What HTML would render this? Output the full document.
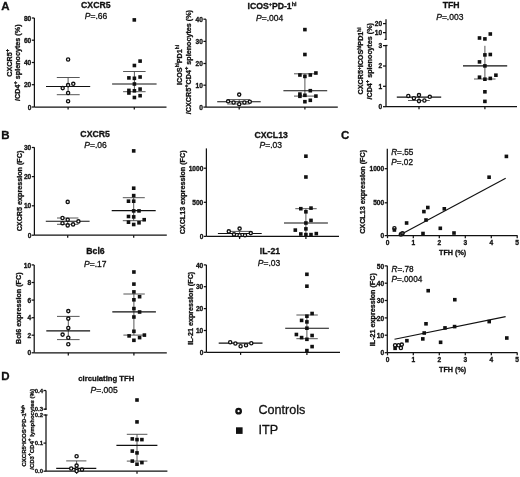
<!DOCTYPE html><html><head><meta charset="utf-8"><style>html,body{margin:0;padding:0;background:#fff;overflow:hidden;}svg{display:block;font-family:"Liberation Sans",sans-serif;will-change:transform;}text{fill:#111;stroke:#111;stroke-width:0.3px;}</style></head><body>
<svg width="520" height="477" viewBox="0 0 520 477">
<rect width="520" height="477" fill="#fff"/>
<text x="1.2" y="9.6" font-size="11.5" text-anchor="start" font-weight="bold" >A</text>
<text x="1.3" y="139.2" font-size="11.5" text-anchor="start" font-weight="bold" >B</text>
<text x="341" y="139.2" font-size="11.5" text-anchor="start" font-weight="bold" >C</text>
<text x="1.2" y="380.4" font-size="11.5" text-anchor="start" font-weight="bold" >D</text>
<line x1="34.4" y1="18" x2="34.4" y2="107" stroke="#111" stroke-width="1.25"/>
<line x1="31.8" y1="18" x2="34.4" y2="18" stroke="#111" stroke-width="1.25"/>
<text x="31.3" y="20.68" font-size="6.6" text-anchor="end" font-weight="bold" >80</text>
<line x1="31.8" y1="40.2" x2="34.4" y2="40.2" stroke="#111" stroke-width="1.25"/>
<text x="31.3" y="42.88" font-size="6.6" text-anchor="end" font-weight="bold" >60</text>
<line x1="31.8" y1="62.5" x2="34.4" y2="62.5" stroke="#111" stroke-width="1.25"/>
<text x="31.3" y="65.18" font-size="6.6" text-anchor="end" font-weight="bold" >40</text>
<line x1="31.8" y1="84.7" x2="34.4" y2="84.7" stroke="#111" stroke-width="1.25"/>
<text x="31.3" y="87.38" font-size="6.6" text-anchor="end" font-weight="bold" >20</text>
<line x1="31.8" y1="107" x2="34.4" y2="107" stroke="#111" stroke-width="1.25"/>
<text x="31.3" y="109.68" font-size="6.6" text-anchor="end" font-weight="bold" >0</text>
<line x1="34.4" y1="107" x2="166.5" y2="107" stroke="#111" stroke-width="1.25"/>
<line x1="68.1" y1="107" x2="68.1" y2="109.6" stroke="#111" stroke-width="1.25"/>
<line x1="134.3" y1="107" x2="134.3" y2="109.6" stroke="#111" stroke-width="1.25"/>
<text x="95.8" y="8.2" font-size="8.7" text-anchor="middle" font-weight="bold" >CXCR5</text>
<text x="96" y="19" font-size="8.5" text-anchor="middle" stroke="#111" stroke-width="0.25"><tspan font-style="italic">P</tspan>=.66</text>
<text transform="translate(11.6,62.8) rotate(-90)" font-size="7.2" font-weight="bold" text-anchor="middle">CXCR5<tspan dy="-2.88" font-size="5.76">+</tspan><tspan dy="2.88"></tspan></text>
<text transform="translate(19.5,62.7) rotate(-90)" font-size="7.2" font-weight="bold" text-anchor="middle">/CD4<tspan dy="-2.88" font-size="5.76">+</tspan><tspan dy="2.88"> splenocytes (%)</tspan></text>
<line x1="68.1" y1="77.5" x2="68.1" y2="94.7" stroke="#444" stroke-width="0.9"/>
<line x1="56.8" y1="77.5" x2="79.7" y2="77.5" stroke="#444" stroke-width="0.9"/>
<line x1="56.8" y1="94.7" x2="79.7" y2="94.7" stroke="#444" stroke-width="0.9"/>
<line x1="46" y1="86.5" x2="90.2" y2="86.5" stroke="#111" stroke-width="1.15"/>
<circle cx="68.1" cy="59.5" r="1.6" fill="#fff" stroke="#111" stroke-width="1.35"/>
<circle cx="73.3" cy="83.8" r="1.6" fill="#fff" stroke="#111" stroke-width="1.35"/>
<circle cx="68.1" cy="85.1" r="1.6" fill="#fff" stroke="#111" stroke-width="1.35"/>
<circle cx="62.7" cy="88.1" r="1.6" fill="#fff" stroke="#111" stroke-width="1.35"/>
<circle cx="68.1" cy="93" r="1.6" fill="#fff" stroke="#111" stroke-width="1.35"/>
<circle cx="68.1" cy="101.2" r="1.6" fill="#fff" stroke="#111" stroke-width="1.35"/>
<line x1="134.4" y1="71.5" x2="134.4" y2="91.7" stroke="#444" stroke-width="0.9"/>
<line x1="123.1" y1="71.5" x2="145.6" y2="71.5" stroke="#444" stroke-width="0.9"/>
<line x1="123.1" y1="91.7" x2="145.6" y2="91.7" stroke="#444" stroke-width="0.9"/>
<line x1="112.1" y1="84" x2="156.6" y2="84" stroke="#111" stroke-width="1.15"/>
<rect x="132.5" y="18.1" width="3.6" height="3.6" fill="#111"/>
<rect x="138.3" y="59.3" width="3.6" height="3.6" fill="#111"/>
<rect x="132.6" y="63.7" width="3.6" height="3.6" fill="#111"/>
<rect x="127.1" y="76.1" width="3.6" height="3.6" fill="#111"/>
<rect x="132.6" y="76.5" width="3.6" height="3.6" fill="#111"/>
<rect x="138.3" y="75.2" width="3.6" height="3.6" fill="#111"/>
<rect x="132.6" y="82.2" width="3.6" height="3.6" fill="#111"/>
<rect x="127.1" y="88.6" width="3.6" height="3.6" fill="#111"/>
<rect x="127.1" y="91.2" width="3.6" height="3.6" fill="#111"/>
<rect x="132.6" y="89" width="3.6" height="3.6" fill="#111"/>
<rect x="138.3" y="87.3" width="3.6" height="3.6" fill="#111"/>
<rect x="132.6" y="95.7" width="3.6" height="3.6" fill="#111"/>
<rect x="138.3" y="93.9" width="3.6" height="3.6" fill="#111"/>
<line x1="206" y1="19.2" x2="206" y2="107" stroke="#111" stroke-width="1.25"/>
<line x1="203.4" y1="19.2" x2="206" y2="19.2" stroke="#111" stroke-width="1.25"/>
<text x="202.9" y="21.88" font-size="6.6" text-anchor="end" font-weight="bold" >40</text>
<line x1="203.4" y1="41.4" x2="206" y2="41.4" stroke="#111" stroke-width="1.25"/>
<text x="202.9" y="44.08" font-size="6.6" text-anchor="end" font-weight="bold" >30</text>
<line x1="203.4" y1="63.5" x2="206" y2="63.5" stroke="#111" stroke-width="1.25"/>
<text x="202.9" y="66.18" font-size="6.6" text-anchor="end" font-weight="bold" >20</text>
<line x1="203.4" y1="85.2" x2="206" y2="85.2" stroke="#111" stroke-width="1.25"/>
<text x="202.9" y="87.88" font-size="6.6" text-anchor="end" font-weight="bold" >10</text>
<line x1="203.4" y1="107.1" x2="206" y2="107.1" stroke="#111" stroke-width="1.25"/>
<text x="202.9" y="109.78" font-size="6.6" text-anchor="end" font-weight="bold" >0</text>
<line x1="206" y1="107" x2="337.8" y2="107" stroke="#111" stroke-width="1.25"/>
<line x1="239.2" y1="107" x2="239.2" y2="109.6" stroke="#111" stroke-width="1.25"/>
<line x1="304.9" y1="107" x2="304.9" y2="109.6" stroke="#111" stroke-width="1.25"/>
<text x="272" y="8.9" font-size="8.7" text-anchor="middle" font-weight="bold">ICOS<tspan dy="-3.2" font-size="5.3">+</tspan><tspan dy="3.2">PD-1</tspan><tspan dy="-3.2" font-size="5.3">hi</tspan></text>
<text x="269.6" y="21" font-size="8.5" text-anchor="middle" stroke="#111" stroke-width="0.25"><tspan font-style="italic">P</tspan>=.004</text>
<text transform="translate(181.6,65) rotate(-90)" font-size="7.2" font-weight="bold" text-anchor="middle">ICOS<tspan dy="-2.88" font-size="4.68">hi</tspan><tspan dy="2.88">PD1</tspan><tspan dy="-2.88" font-size="4.68">hi</tspan><tspan dy="2.88"></tspan></text>
<text transform="translate(190.8,62.1) rotate(-90)" font-size="7.2" font-weight="bold" text-anchor="middle">/CXCR5<tspan dy="-2.88" font-size="5.76">+</tspan><tspan dy="2.88">CD4</tspan><tspan dy="-2.88" font-size="5.76">+</tspan><tspan dy="2.88"> splenocytes (%)</tspan></text>
<line x1="239.2" y1="99.6" x2="239.2" y2="104" stroke="#444" stroke-width="0.9"/>
<line x1="227.3" y1="99.6" x2="249.8" y2="99.6" stroke="#444" stroke-width="0.9"/>
<line x1="227.3" y1="104" x2="249.8" y2="104" stroke="#444" stroke-width="0.9"/>
<line x1="217.2" y1="101.7" x2="260.7" y2="101.7" stroke="#111" stroke-width="1.15"/>
<circle cx="239.2" cy="94.6" r="1.6" fill="#fff" stroke="#111" stroke-width="1.35"/>
<circle cx="228.1" cy="101.3" r="1.6" fill="#fff" stroke="#111" stroke-width="1.35"/>
<circle cx="233.6" cy="102.5" r="1.6" fill="#fff" stroke="#111" stroke-width="1.35"/>
<circle cx="239.2" cy="104.2" r="1.6" fill="#fff" stroke="#111" stroke-width="1.35"/>
<circle cx="244.4" cy="102.5" r="1.6" fill="#fff" stroke="#111" stroke-width="1.35"/>
<circle cx="249.8" cy="101.7" r="1.6" fill="#fff" stroke="#111" stroke-width="1.35"/>
<line x1="304.9" y1="73.8" x2="304.9" y2="96.1" stroke="#444" stroke-width="0.9"/>
<line x1="294" y1="73.8" x2="315.9" y2="73.8" stroke="#444" stroke-width="0.9"/>
<line x1="294" y1="96.1" x2="315.9" y2="96.1" stroke="#444" stroke-width="0.9"/>
<line x1="283.4" y1="90.7" x2="327.2" y2="90.7" stroke="#111" stroke-width="1.15"/>
<rect x="303.1" y="27.8" width="3.6" height="3.6" fill="#111"/>
<rect x="303.1" y="52.7" width="3.6" height="3.6" fill="#111"/>
<rect x="298.1" y="73.2" width="3.6" height="3.6" fill="#111"/>
<rect x="303.1" y="74.6" width="3.6" height="3.6" fill="#111"/>
<rect x="308.5" y="73.2" width="3.6" height="3.6" fill="#111"/>
<rect x="314.1" y="71.2" width="3.6" height="3.6" fill="#111"/>
<rect x="308.5" y="88.9" width="3.6" height="3.6" fill="#111"/>
<rect x="298.1" y="92.3" width="3.6" height="3.6" fill="#111"/>
<rect x="298.1" y="94.5" width="3.6" height="3.6" fill="#111"/>
<rect x="303.1" y="93.5" width="3.6" height="3.6" fill="#111"/>
<rect x="314.1" y="94.3" width="3.6" height="3.6" fill="#111"/>
<rect x="303.1" y="99.9" width="3.6" height="3.6" fill="#111"/>
<rect x="308.5" y="98.5" width="3.6" height="3.6" fill="#111"/>
<line x1="386" y1="19.2" x2="386" y2="39.4" stroke="#111" stroke-width="1.25"/>
<line x1="384.5" y1="39.4" x2="386.5" y2="39.4" stroke="#111" stroke-width="1.25"/>
<line x1="383" y1="23.6" x2="386" y2="23.6" stroke="#111" stroke-width="1.25"/>
<text x="382.2" y="25.98" font-size="6.6" text-anchor="end" font-weight="bold" >20</text>
<line x1="383" y1="32.6" x2="386" y2="32.6" stroke="#111" stroke-width="1.25"/>
<text x="382.2" y="34.98" font-size="6.6" text-anchor="end" font-weight="bold" >10</text>
<line x1="386" y1="45.5" x2="386" y2="106.7" stroke="#111" stroke-width="1.25"/>
<line x1="385.5" y1="45.5" x2="387.5" y2="45.5" stroke="#111" stroke-width="1.25"/>
<line x1="383" y1="45.6" x2="386" y2="45.6" stroke="#111" stroke-width="1.25"/>
<text x="382.2" y="47.98" font-size="6.6" text-anchor="end" font-weight="bold" >3</text>
<line x1="383" y1="66" x2="386" y2="66" stroke="#111" stroke-width="1.25"/>
<text x="382.2" y="68.38" font-size="6.6" text-anchor="end" font-weight="bold" >2</text>
<line x1="383" y1="86.3" x2="386" y2="86.3" stroke="#111" stroke-width="1.25"/>
<text x="382.2" y="88.68" font-size="6.6" text-anchor="end" font-weight="bold" >1</text>
<line x1="383" y1="106.7" x2="386" y2="106.7" stroke="#111" stroke-width="1.25"/>
<text x="382.2" y="109.08" font-size="6.6" text-anchor="end" font-weight="bold" >0</text>
<line x1="386" y1="106.7" x2="517" y2="106.7" stroke="#111" stroke-width="1.25"/>
<line x1="419" y1="106.7" x2="419" y2="109.3" stroke="#111" stroke-width="1.25"/>
<line x1="484.9" y1="106.7" x2="484.9" y2="109.3" stroke="#111" stroke-width="1.25"/>
<text x="451.1" y="8.3" font-size="8.7" text-anchor="middle" font-weight="bold" >TFH</text>
<text x="449.8" y="19.7" font-size="8.5" text-anchor="middle" stroke="#111" stroke-width="0.25"><tspan font-style="italic">P</tspan>=.003</text>
<text transform="translate(363.4,61) rotate(-90)" font-size="7.2" font-weight="bold" text-anchor="middle">CXCR5<tspan dy="-2.88" font-size="4.68">+</tspan><tspan dy="2.88">ICOS</tspan><tspan dy="-2.88" font-size="4.68">hi</tspan><tspan dy="2.88">PD1</tspan><tspan dy="-2.88" font-size="4.68">hi</tspan><tspan dy="2.88"></tspan></text>
<text transform="translate(371.6,61.3) rotate(-90)" font-size="7.2" font-weight="bold" text-anchor="middle">/CD4<tspan dy="-2.88" font-size="5.76">+</tspan><tspan dy="2.88"> splenocytes (%)</tspan></text>
<line x1="419" y1="96" x2="419" y2="100.5" stroke="#444" stroke-width="0.9"/>
<line x1="408" y1="100.5" x2="429.8" y2="100.5" stroke="#444" stroke-width="0.9"/>
<line x1="396.8" y1="97.1" x2="441.2" y2="97.1" stroke="#111" stroke-width="1.15"/>
<circle cx="408.3" cy="95.9" r="1.6" fill="#fff" stroke="#111" stroke-width="1.35"/>
<circle cx="413.9" cy="98.2" r="1.6" fill="#fff" stroke="#111" stroke-width="1.35"/>
<circle cx="419" cy="95.1" r="1.6" fill="#fff" stroke="#111" stroke-width="1.35"/>
<circle cx="419" cy="101.1" r="1.6" fill="#fff" stroke="#111" stroke-width="1.35"/>
<circle cx="424.4" cy="100.5" r="1.6" fill="#fff" stroke="#111" stroke-width="1.35"/>
<circle cx="429.8" cy="96.8" r="1.6" fill="#fff" stroke="#111" stroke-width="1.35"/>
<line x1="484.9" y1="45.8" x2="484.9" y2="79" stroke="#444" stroke-width="0.9"/>
<line x1="474" y1="79" x2="495.5" y2="79" stroke="#444" stroke-width="0.9"/>
<line x1="463" y1="65.9" x2="507.2" y2="65.9" stroke="#111" stroke-width="1.15"/>
<rect x="488.5" y="32.2" width="3.6" height="3.6" fill="#111"/>
<rect x="477.7" y="36.2" width="3.6" height="3.6" fill="#111"/>
<rect x="483.1" y="37.1" width="3.6" height="3.6" fill="#111"/>
<rect x="483.1" y="53.1" width="3.6" height="3.6" fill="#111"/>
<rect x="488.5" y="52.7" width="3.6" height="3.6" fill="#111"/>
<rect x="477.7" y="60.1" width="3.6" height="3.6" fill="#111"/>
<rect x="483.1" y="64.1" width="3.6" height="3.6" fill="#111"/>
<rect x="477.7" y="75.4" width="3.6" height="3.6" fill="#111"/>
<rect x="483.1" y="77.4" width="3.6" height="3.6" fill="#111"/>
<rect x="488.5" y="76.6" width="3.6" height="3.6" fill="#111"/>
<rect x="494.1" y="73.4" width="3.6" height="3.6" fill="#111"/>
<rect x="483.1" y="90" width="3.6" height="3.6" fill="#111"/>
<rect x="483.1" y="99.6" width="3.6" height="3.6" fill="#111"/>
<line x1="34.4" y1="147.3" x2="34.4" y2="235.2" stroke="#111" stroke-width="1.25"/>
<line x1="31.8" y1="147.5" x2="34.4" y2="147.5" stroke="#111" stroke-width="1.25"/>
<text x="31.3" y="150.18" font-size="6.6" text-anchor="end" font-weight="bold" >30</text>
<line x1="31.8" y1="176.6" x2="34.4" y2="176.6" stroke="#111" stroke-width="1.25"/>
<text x="31.3" y="179.28" font-size="6.6" text-anchor="end" font-weight="bold" >20</text>
<line x1="31.8" y1="205.8" x2="34.4" y2="205.8" stroke="#111" stroke-width="1.25"/>
<text x="31.3" y="208.48" font-size="6.6" text-anchor="end" font-weight="bold" >10</text>
<line x1="31.8" y1="235.2" x2="34.4" y2="235.2" stroke="#111" stroke-width="1.25"/>
<text x="31.3" y="237.88" font-size="6.6" text-anchor="end" font-weight="bold" >0</text>
<line x1="34.4" y1="235.2" x2="166.8" y2="235.2" stroke="#111" stroke-width="1.25"/>
<line x1="67.7" y1="235.2" x2="67.7" y2="237.8" stroke="#111" stroke-width="1.25"/>
<line x1="133.7" y1="235.2" x2="133.7" y2="237.8" stroke="#111" stroke-width="1.25"/>
<text x="95.1" y="136.5" font-size="8.7" text-anchor="middle" font-weight="bold" >CXCR5</text>
<text x="95.5" y="147.5" font-size="8.5" text-anchor="middle" stroke="#111" stroke-width="0.25"><tspan font-style="italic">P</tspan>=.06</text>
<text transform="translate(21.5,191) rotate(-90)" font-size="7.2" font-weight="bold" text-anchor="middle">CXCR5 expression (FC)</text>
<line x1="67.7" y1="218" x2="67.7" y2="224.3" stroke="#444" stroke-width="0.9"/>
<line x1="57" y1="218" x2="78.4" y2="218" stroke="#444" stroke-width="0.9"/>
<line x1="57" y1="224.3" x2="78.4" y2="224.3" stroke="#444" stroke-width="0.9"/>
<line x1="45.8" y1="221.2" x2="89.6" y2="221.2" stroke="#111" stroke-width="1.15"/>
<circle cx="67.7" cy="201.9" r="1.6" fill="#fff" stroke="#111" stroke-width="1.35"/>
<circle cx="62.5" cy="218" r="1.6" fill="#fff" stroke="#111" stroke-width="1.35"/>
<circle cx="67.7" cy="219.7" r="1.6" fill="#fff" stroke="#111" stroke-width="1.35"/>
<circle cx="78.4" cy="221.4" r="1.6" fill="#fff" stroke="#111" stroke-width="1.35"/>
<circle cx="62.5" cy="223.2" r="1.6" fill="#fff" stroke="#111" stroke-width="1.35"/>
<circle cx="73.1" cy="224.4" r="1.6" fill="#fff" stroke="#111" stroke-width="1.35"/>
<circle cx="67.7" cy="225.4" r="1.6" fill="#fff" stroke="#111" stroke-width="1.35"/>
<line x1="133.7" y1="197.7" x2="133.7" y2="220.7" stroke="#444" stroke-width="0.9"/>
<line x1="122.8" y1="197.7" x2="144.8" y2="197.7" stroke="#444" stroke-width="0.9"/>
<line x1="122.8" y1="220.7" x2="144.8" y2="220.7" stroke="#444" stroke-width="0.9"/>
<line x1="111.7" y1="210.6" x2="155.7" y2="210.6" stroke="#111" stroke-width="1.15"/>
<rect x="131.9" y="149.1" width="3.6" height="3.6" fill="#111"/>
<rect x="131.9" y="186.4" width="3.6" height="3.6" fill="#111"/>
<rect x="131.9" y="193.8" width="3.6" height="3.6" fill="#111"/>
<rect x="126.7" y="199.4" width="3.6" height="3.6" fill="#111"/>
<rect x="131.9" y="199.4" width="3.6" height="3.6" fill="#111"/>
<rect x="131.9" y="209.1" width="3.6" height="3.6" fill="#111"/>
<rect x="137.2" y="209.1" width="3.6" height="3.6" fill="#111"/>
<rect x="126.7" y="214.7" width="3.6" height="3.6" fill="#111"/>
<rect x="131.9" y="215.1" width="3.6" height="3.6" fill="#111"/>
<rect x="142.4" y="217.9" width="3.6" height="3.6" fill="#111"/>
<rect x="126.7" y="220.4" width="3.6" height="3.6" fill="#111"/>
<rect x="137.2" y="221" width="3.6" height="3.6" fill="#111"/>
<rect x="131.9" y="222.7" width="3.6" height="3.6" fill="#111"/>
<line x1="206.4" y1="148.4" x2="206.4" y2="236.4" stroke="#111" stroke-width="1.25"/>
<line x1="203.8" y1="168.2" x2="206.4" y2="168.2" stroke="#111" stroke-width="1.25"/>
<text x="203.3" y="170.88" font-size="6.6" text-anchor="end" font-weight="bold" >1000</text>
<line x1="203.8" y1="202.3" x2="206.4" y2="202.3" stroke="#111" stroke-width="1.25"/>
<text x="203.3" y="204.98" font-size="6.6" text-anchor="end" font-weight="bold" >500</text>
<line x1="203.8" y1="236.4" x2="206.4" y2="236.4" stroke="#111" stroke-width="1.25"/>
<text x="203.3" y="239.08" font-size="6.6" text-anchor="end" font-weight="bold" >0</text>
<line x1="206.4" y1="236.4" x2="339" y2="236.4" stroke="#111" stroke-width="1.25"/>
<line x1="239.6" y1="236.4" x2="239.6" y2="239" stroke="#111" stroke-width="1.25"/>
<line x1="305.9" y1="236.4" x2="305.9" y2="239" stroke="#111" stroke-width="1.25"/>
<text x="271.2" y="137.5" font-size="8.7" text-anchor="middle" font-weight="bold" >CXCL13</text>
<text x="270.8" y="147.5" font-size="8.5" text-anchor="middle" stroke="#111" stroke-width="0.25"><tspan font-style="italic">P</tspan>=.03</text>
<text transform="translate(185.2,192.4) rotate(-90)" font-size="7.2" font-weight="bold" text-anchor="middle">CXCL13 expression (FC)</text>
<line x1="239.6" y1="231.4" x2="239.6" y2="235" stroke="#444" stroke-width="0.9"/>
<line x1="228" y1="231.4" x2="250" y2="231.4" stroke="#444" stroke-width="0.9"/>
<line x1="217.9" y1="233.5" x2="261.7" y2="233.5" stroke="#111" stroke-width="1.15"/>
<circle cx="239.6" cy="228.6" r="1.6" fill="#fff" stroke="#111" stroke-width="1.35"/>
<circle cx="228.8" cy="231.4" r="1.6" fill="#fff" stroke="#111" stroke-width="1.35"/>
<circle cx="234" cy="234.4" r="1.6" fill="#fff" stroke="#111" stroke-width="1.35"/>
<circle cx="239.6" cy="235.2" r="1.6" fill="#fff" stroke="#111" stroke-width="1.35"/>
<circle cx="245" cy="235.2" r="1.6" fill="#fff" stroke="#111" stroke-width="1.35"/>
<circle cx="250.8" cy="233.1" r="1.6" fill="#fff" stroke="#111" stroke-width="1.35"/>
<line x1="305.9" y1="208.7" x2="305.9" y2="234" stroke="#444" stroke-width="0.9"/>
<line x1="295.3" y1="208.7" x2="316.7" y2="208.7" stroke="#444" stroke-width="0.9"/>
<line x1="284" y1="223" x2="327.9" y2="223" stroke="#111" stroke-width="1.15"/>
<rect x="304.1" y="154.4" width="3.6" height="3.6" fill="#111"/>
<rect x="304.1" y="175.2" width="3.6" height="3.6" fill="#111"/>
<rect x="299" y="206.9" width="3.6" height="3.6" fill="#111"/>
<rect x="309.2" y="206.3" width="3.6" height="3.6" fill="#111"/>
<rect x="304.1" y="210" width="3.6" height="3.6" fill="#111"/>
<rect x="309.2" y="218.6" width="3.6" height="3.6" fill="#111"/>
<rect x="304.1" y="221.2" width="3.6" height="3.6" fill="#111"/>
<rect x="293.5" y="228.3" width="3.6" height="3.6" fill="#111"/>
<rect x="304.1" y="227.1" width="3.6" height="3.6" fill="#111"/>
<rect x="299" y="232.2" width="3.6" height="3.6" fill="#111"/>
<rect x="304.1" y="232.8" width="3.6" height="3.6" fill="#111"/>
<rect x="309.2" y="232.8" width="3.6" height="3.6" fill="#111"/>
<rect x="314.5" y="231.8" width="3.6" height="3.6" fill="#111"/>
<line x1="34.2" y1="264.9" x2="34.2" y2="352.8" stroke="#111" stroke-width="1.25"/>
<line x1="31.6" y1="264.9" x2="34.2" y2="264.9" stroke="#111" stroke-width="1.25"/>
<text x="31.1" y="267.58" font-size="6.6" text-anchor="end" font-weight="bold" >10</text>
<line x1="31.6" y1="282.5" x2="34.2" y2="282.5" stroke="#111" stroke-width="1.25"/>
<text x="31.1" y="285.18" font-size="6.6" text-anchor="end" font-weight="bold" >8</text>
<line x1="31.6" y1="300.1" x2="34.2" y2="300.1" stroke="#111" stroke-width="1.25"/>
<text x="31.1" y="302.78" font-size="6.6" text-anchor="end" font-weight="bold" >6</text>
<line x1="31.6" y1="317.7" x2="34.2" y2="317.7" stroke="#111" stroke-width="1.25"/>
<text x="31.1" y="320.38" font-size="6.6" text-anchor="end" font-weight="bold" >4</text>
<line x1="31.6" y1="335.2" x2="34.2" y2="335.2" stroke="#111" stroke-width="1.25"/>
<text x="31.1" y="337.88" font-size="6.6" text-anchor="end" font-weight="bold" >2</text>
<line x1="31.6" y1="352.8" x2="34.2" y2="352.8" stroke="#111" stroke-width="1.25"/>
<text x="31.1" y="355.48" font-size="6.6" text-anchor="end" font-weight="bold" >0</text>
<line x1="34.2" y1="352.8" x2="166.8" y2="352.8" stroke="#111" stroke-width="1.25"/>
<line x1="68.3" y1="352.8" x2="68.3" y2="355.4" stroke="#111" stroke-width="1.25"/>
<line x1="133.9" y1="352.8" x2="133.9" y2="355.4" stroke="#111" stroke-width="1.25"/>
<text x="95.5" y="253.8" font-size="8.7" text-anchor="middle" font-weight="bold" >Bcl6</text>
<text x="95.3" y="267.2" font-size="8.5" text-anchor="middle" stroke="#111" stroke-width="0.25"><tspan font-style="italic">P</tspan>=.17</text>
<text transform="translate(21.3,308.2) rotate(-90)" font-size="7.2" font-weight="bold" text-anchor="middle">Bcl6 expression (FC)</text>
<line x1="68.3" y1="316.4" x2="68.3" y2="339.6" stroke="#444" stroke-width="0.9"/>
<line x1="57" y1="316.4" x2="79.6" y2="316.4" stroke="#444" stroke-width="0.9"/>
<line x1="57" y1="339.6" x2="79.6" y2="339.6" stroke="#444" stroke-width="0.9"/>
<line x1="46.3" y1="330.8" x2="90.1" y2="330.8" stroke="#111" stroke-width="1.15"/>
<circle cx="68.3" cy="311.1" r="1.6" fill="#fff" stroke="#111" stroke-width="1.35"/>
<circle cx="68.3" cy="318.6" r="1.6" fill="#fff" stroke="#111" stroke-width="1.35"/>
<circle cx="68.3" cy="327.9" r="1.6" fill="#fff" stroke="#111" stroke-width="1.35"/>
<circle cx="62.6" cy="334.6" r="1.6" fill="#fff" stroke="#111" stroke-width="1.35"/>
<circle cx="68.3" cy="337.7" r="1.6" fill="#fff" stroke="#111" stroke-width="1.35"/>
<circle cx="68.3" cy="344.3" r="1.6" fill="#fff" stroke="#111" stroke-width="1.35"/>
<line x1="133.9" y1="294" x2="133.9" y2="335.1" stroke="#444" stroke-width="0.9"/>
<line x1="123.4" y1="294" x2="144.8" y2="294" stroke="#444" stroke-width="0.9"/>
<line x1="123.4" y1="335.1" x2="144.8" y2="335.1" stroke="#444" stroke-width="0.9"/>
<line x1="112.3" y1="311.8" x2="155.9" y2="311.8" stroke="#111" stroke-width="1.15"/>
<rect x="132.1" y="270.2" width="3.6" height="3.6" fill="#111"/>
<rect x="132.1" y="282.3" width="3.6" height="3.6" fill="#111"/>
<rect x="132.1" y="290.1" width="3.6" height="3.6" fill="#111"/>
<rect x="137.8" y="294.9" width="3.6" height="3.6" fill="#111"/>
<rect x="132.1" y="298" width="3.6" height="3.6" fill="#111"/>
<rect x="132.1" y="306.8" width="3.6" height="3.6" fill="#111"/>
<rect x="137.8" y="310.2" width="3.6" height="3.6" fill="#111"/>
<rect x="132.1" y="315.2" width="3.6" height="3.6" fill="#111"/>
<rect x="132.1" y="329.5" width="3.6" height="3.6" fill="#111"/>
<rect x="127.3" y="334.1" width="3.6" height="3.6" fill="#111"/>
<rect x="142.6" y="333.3" width="3.6" height="3.6" fill="#111"/>
<rect x="137.8" y="335.8" width="3.6" height="3.6" fill="#111"/>
<rect x="132.1" y="338.5" width="3.6" height="3.6" fill="#111"/>
<line x1="206.4" y1="264.9" x2="206.4" y2="352.3" stroke="#111" stroke-width="1.25"/>
<line x1="203.8" y1="264.9" x2="206.4" y2="264.9" stroke="#111" stroke-width="1.25"/>
<text x="203.3" y="267.58" font-size="6.6" text-anchor="end" font-weight="bold" >40</text>
<line x1="203.8" y1="286.7" x2="206.4" y2="286.7" stroke="#111" stroke-width="1.25"/>
<text x="203.3" y="289.38" font-size="6.6" text-anchor="end" font-weight="bold" >30</text>
<line x1="203.8" y1="308.6" x2="206.4" y2="308.6" stroke="#111" stroke-width="1.25"/>
<text x="203.3" y="311.28" font-size="6.6" text-anchor="end" font-weight="bold" >20</text>
<line x1="203.8" y1="330.5" x2="206.4" y2="330.5" stroke="#111" stroke-width="1.25"/>
<text x="203.3" y="333.18" font-size="6.6" text-anchor="end" font-weight="bold" >10</text>
<line x1="203.8" y1="352.3" x2="206.4" y2="352.3" stroke="#111" stroke-width="1.25"/>
<text x="203.3" y="354.98" font-size="6.6" text-anchor="end" font-weight="bold" >0</text>
<line x1="206.4" y1="352.3" x2="340" y2="352.3" stroke="#111" stroke-width="1.25"/>
<line x1="240.6" y1="352.3" x2="240.6" y2="354.9" stroke="#111" stroke-width="1.25"/>
<line x1="306.9" y1="352.3" x2="306.9" y2="354.9" stroke="#111" stroke-width="1.25"/>
<text x="270" y="254" font-size="8.7" text-anchor="middle" font-weight="bold" >IL-21</text>
<text x="269.1" y="266" font-size="8.5" text-anchor="middle" stroke="#111" stroke-width="0.25"><tspan font-style="italic">P</tspan>=.03</text>
<text transform="translate(193.4,308.3) rotate(-90)" font-size="7.2" font-weight="bold" text-anchor="middle">IL-21 expression (FC)</text>
<line x1="218.7" y1="343.1" x2="262.5" y2="343.1" stroke="#111" stroke-width="1.15"/>
<circle cx="230.2" cy="342.3" r="1.6" fill="#fff" stroke="#111" stroke-width="1.35"/>
<circle cx="235.4" cy="343.5" r="1.6" fill="#fff" stroke="#111" stroke-width="1.35"/>
<circle cx="240.6" cy="346.3" r="1.6" fill="#fff" stroke="#111" stroke-width="1.35"/>
<circle cx="246" cy="345.2" r="1.6" fill="#fff" stroke="#111" stroke-width="1.35"/>
<circle cx="251.3" cy="343.2" r="1.6" fill="#fff" stroke="#111" stroke-width="1.35"/>
<line x1="306.9" y1="315" x2="306.9" y2="338.7" stroke="#444" stroke-width="0.9"/>
<line x1="296.4" y1="315" x2="317.8" y2="315" stroke="#444" stroke-width="0.9"/>
<line x1="296.4" y1="338.7" x2="317.8" y2="338.7" stroke="#444" stroke-width="0.9"/>
<line x1="285.2" y1="328.2" x2="328.9" y2="328.2" stroke="#111" stroke-width="1.15"/>
<rect x="305.1" y="272.5" width="3.6" height="3.6" fill="#111"/>
<rect x="305.1" y="284.4" width="3.6" height="3.6" fill="#111"/>
<rect x="310.3" y="311.7" width="3.6" height="3.6" fill="#111"/>
<rect x="305.1" y="314.4" width="3.6" height="3.6" fill="#111"/>
<rect x="299.8" y="318.6" width="3.6" height="3.6" fill="#111"/>
<rect x="305.1" y="320.1" width="3.6" height="3.6" fill="#111"/>
<rect x="305.1" y="326.4" width="3.6" height="3.6" fill="#111"/>
<rect x="294.6" y="332.7" width="3.6" height="3.6" fill="#111"/>
<rect x="310.3" y="333.7" width="3.6" height="3.6" fill="#111"/>
<rect x="299.8" y="335.8" width="3.6" height="3.6" fill="#111"/>
<rect x="305.1" y="337.5" width="3.6" height="3.6" fill="#111"/>
<rect x="310.3" y="344.8" width="3.6" height="3.6" fill="#111"/>
<rect x="305.1" y="348.8" width="3.6" height="3.6" fill="#111"/>
<line x1="387.3" y1="148.8" x2="387.3" y2="235.6" stroke="#111" stroke-width="1.25"/>
<line x1="384.7" y1="168.7" x2="387.3" y2="168.7" stroke="#111" stroke-width="1.25"/>
<text x="384.2" y="171.38" font-size="6.6" text-anchor="end" font-weight="bold" >1000</text>
<line x1="384.7" y1="202.8" x2="387.3" y2="202.8" stroke="#111" stroke-width="1.25"/>
<text x="384.2" y="205.48" font-size="6.6" text-anchor="end" font-weight="bold" >500</text>
<line x1="384.7" y1="235.6" x2="387.3" y2="235.6" stroke="#111" stroke-width="1.25"/>
<text x="384.2" y="238.28" font-size="6.6" text-anchor="end" font-weight="bold" >0</text>
<line x1="387.3" y1="235.6" x2="517.5" y2="235.6" stroke="#111" stroke-width="1.25"/>
<line x1="387.5" y1="235.6" x2="387.5" y2="238.2" stroke="#111" stroke-width="1.25"/>
<text x="387.5" y="245" font-size="6.6" text-anchor="middle" font-weight="bold" >0</text>
<line x1="413.3" y1="235.6" x2="413.3" y2="238.2" stroke="#111" stroke-width="1.25"/>
<text x="413.3" y="245" font-size="6.6" text-anchor="middle" font-weight="bold" >1</text>
<line x1="439.3" y1="235.6" x2="439.3" y2="238.2" stroke="#111" stroke-width="1.25"/>
<text x="439.3" y="245" font-size="6.6" text-anchor="middle" font-weight="bold" >2</text>
<line x1="465.3" y1="235.6" x2="465.3" y2="238.2" stroke="#111" stroke-width="1.25"/>
<text x="465.3" y="245" font-size="6.6" text-anchor="middle" font-weight="bold" >3</text>
<line x1="491.3" y1="235.6" x2="491.3" y2="238.2" stroke="#111" stroke-width="1.25"/>
<text x="491.3" y="245" font-size="6.6" text-anchor="middle" font-weight="bold" >4</text>
<line x1="517.2" y1="235.6" x2="517.2" y2="238.2" stroke="#111" stroke-width="1.25"/>
<text x="517.2" y="245" font-size="6.6" text-anchor="middle" font-weight="bold" >5</text>
<text x="452.6" y="254.6" font-size="7.2" text-anchor="middle" font-weight="bold" >TFH (%)</text>
<text x="391.2" y="155.4" font-size="8.2" text-anchor="start" stroke="#111" stroke-width="0.25"><tspan font-style="italic">R</tspan>=.55</text>
<text x="391.3" y="165.4" font-size="8.2" text-anchor="start" stroke="#111" stroke-width="0.25"><tspan font-style="italic">P</tspan>=.02</text>
<text transform="translate(365.2,191.9) rotate(-90)" font-size="7.2" font-weight="bold" text-anchor="middle">CXCL13 expression (FC)</text>
<line x1="399.8" y1="235.1" x2="505.7" y2="178.3" stroke="#111" stroke-width="1.15"/>
<circle cx="394.4" cy="228.2" r="1.6" fill="#fff" stroke="#111" stroke-width="1.35"/>
<circle cx="400.9" cy="234.4" r="1.7" fill="#555" stroke="#111" stroke-width="1.3"/>
<circle cx="402.5" cy="233.3" r="1.7" fill="#555" stroke="#111" stroke-width="1.3"/>
<rect x="404.8" y="221.2" width="3.6" height="3.6" fill="#111"/>
<rect x="422.1" y="209.8" width="3.6" height="3.6" fill="#111"/>
<rect x="426" y="205.7" width="3.6" height="3.6" fill="#111"/>
<rect x="424.2" y="218.2" width="3.6" height="3.6" fill="#111"/>
<rect x="421.2" y="231.7" width="3.6" height="3.6" fill="#111"/>
<rect x="442.5" y="207" width="3.6" height="3.6" fill="#111"/>
<rect x="438.5" y="226.5" width="3.6" height="3.6" fill="#111"/>
<rect x="452.2" y="231.2" width="3.6" height="3.6" fill="#111"/>
<rect x="487.3" y="175.4" width="3.6" height="3.6" fill="#111"/>
<rect x="504.6" y="154.6" width="3.6" height="3.6" fill="#111"/>
<rect x="392.6" y="228.2" width="3.6" height="3.6" fill="#111"/>
<line x1="387.3" y1="265.8" x2="387.3" y2="352.7" stroke="#111" stroke-width="1.25"/>
<line x1="384.7" y1="265.9" x2="387.3" y2="265.9" stroke="#111" stroke-width="1.25"/>
<text x="384.2" y="268.58" font-size="6.6" text-anchor="end" font-weight="bold" >50</text>
<line x1="384.7" y1="283.2" x2="387.3" y2="283.2" stroke="#111" stroke-width="1.25"/>
<text x="384.2" y="285.88" font-size="6.6" text-anchor="end" font-weight="bold" >40</text>
<line x1="384.7" y1="300.5" x2="387.3" y2="300.5" stroke="#111" stroke-width="1.25"/>
<text x="384.2" y="303.18" font-size="6.6" text-anchor="end" font-weight="bold" >30</text>
<line x1="384.7" y1="317.9" x2="387.3" y2="317.9" stroke="#111" stroke-width="1.25"/>
<text x="384.2" y="320.58" font-size="6.6" text-anchor="end" font-weight="bold" >20</text>
<line x1="384.7" y1="335.2" x2="387.3" y2="335.2" stroke="#111" stroke-width="1.25"/>
<text x="384.2" y="337.88" font-size="6.6" text-anchor="end" font-weight="bold" >10</text>
<line x1="384.7" y1="352.7" x2="387.3" y2="352.7" stroke="#111" stroke-width="1.25"/>
<text x="384.2" y="355.38" font-size="6.6" text-anchor="end" font-weight="bold" >0</text>
<line x1="387.3" y1="352.7" x2="517.5" y2="352.7" stroke="#111" stroke-width="1.25"/>
<line x1="387.5" y1="352.7" x2="387.5" y2="355.3" stroke="#111" stroke-width="1.25"/>
<text x="387.5" y="362.1" font-size="6.6" text-anchor="middle" font-weight="bold" >0</text>
<line x1="413.3" y1="352.7" x2="413.3" y2="355.3" stroke="#111" stroke-width="1.25"/>
<text x="413.3" y="362.1" font-size="6.6" text-anchor="middle" font-weight="bold" >1</text>
<line x1="439.3" y1="352.7" x2="439.3" y2="355.3" stroke="#111" stroke-width="1.25"/>
<text x="439.3" y="362.1" font-size="6.6" text-anchor="middle" font-weight="bold" >2</text>
<line x1="465.3" y1="352.7" x2="465.3" y2="355.3" stroke="#111" stroke-width="1.25"/>
<text x="465.3" y="362.1" font-size="6.6" text-anchor="middle" font-weight="bold" >3</text>
<line x1="491.3" y1="352.7" x2="491.3" y2="355.3" stroke="#111" stroke-width="1.25"/>
<text x="491.3" y="362.1" font-size="6.6" text-anchor="middle" font-weight="bold" >4</text>
<line x1="517.2" y1="352.7" x2="517.2" y2="355.3" stroke="#111" stroke-width="1.25"/>
<text x="517.2" y="362.1" font-size="6.6" text-anchor="middle" font-weight="bold" >5</text>
<text x="452.6" y="371.7" font-size="7.2" text-anchor="middle" font-weight="bold" >TFH (%)</text>
<text x="391.5" y="272.1" font-size="8.2" text-anchor="start" stroke="#111" stroke-width="0.25"><tspan font-style="italic">R</tspan>=.78</text>
<text x="391.5" y="281.6" font-size="8.2" text-anchor="start" stroke="#111" stroke-width="0.25"><tspan font-style="italic">P</tspan>=.0004</text>
<text transform="translate(374.8,309.7) rotate(-90)" font-size="7.2" font-weight="bold" text-anchor="middle">IL-21 expression (FC)</text>
<line x1="394.5" y1="339.3" x2="505.6" y2="316.6" stroke="#111" stroke-width="1.15"/>
<rect x="426.4" y="288.9" width="3.6" height="3.6" fill="#111"/>
<rect x="453" y="297.9" width="3.6" height="3.6" fill="#111"/>
<rect x="424.2" y="322" width="3.6" height="3.6" fill="#111"/>
<rect x="443.2" y="326.1" width="3.6" height="3.6" fill="#111"/>
<rect x="452.8" y="324.8" width="3.6" height="3.6" fill="#111"/>
<rect x="487.4" y="319.8" width="3.6" height="3.6" fill="#111"/>
<rect x="422.4" y="331.2" width="3.6" height="3.6" fill="#111"/>
<rect x="421" y="337.1" width="3.6" height="3.6" fill="#111"/>
<rect x="405.1" y="338.9" width="3.6" height="3.6" fill="#111"/>
<rect x="438.8" y="340.5" width="3.6" height="3.6" fill="#111"/>
<rect x="505" y="336.2" width="3.6" height="3.6" fill="#111"/>
<rect x="393.3" y="346.5" width="3.6" height="3.6" fill="#111"/>
<circle cx="395.1" cy="345.3" r="1.6" fill="#fff" stroke="#111" stroke-width="1.35"/>
<circle cx="398.6" cy="345.3" r="1.6" fill="#fff" stroke="#111" stroke-width="1.35"/>
<circle cx="401.8" cy="344.6" r="1.6" fill="#fff" stroke="#111" stroke-width="1.35"/>
<circle cx="400.9" cy="348" r="1.6" fill="#fff" stroke="#111" stroke-width="1.35"/>
<line x1="46" y1="390.5" x2="46" y2="409.2" stroke="#111" stroke-width="1.25"/>
<line x1="44.5" y1="409.2" x2="46.8" y2="409.2" stroke="#111" stroke-width="1.25"/>
<line x1="43.5" y1="390.5" x2="46" y2="390.5" stroke="#111" stroke-width="1.25"/>
<text x="43" y="392.66" font-size="6.0" text-anchor="end" font-weight="bold" >0.4</text>
<line x1="43.5" y1="409.2" x2="46" y2="409.2" stroke="#111" stroke-width="1.25"/>
<text x="43" y="411.36" font-size="6.0" text-anchor="end" font-weight="bold" >0.3</text>
<line x1="46" y1="415" x2="46" y2="471.2" stroke="#111" stroke-width="1.25"/>
<line x1="45.2" y1="415" x2="47.5" y2="415" stroke="#111" stroke-width="1.25"/>
<line x1="43.5" y1="415" x2="46" y2="415" stroke="#111" stroke-width="1.25"/>
<text x="43" y="417.16" font-size="6.0" text-anchor="end" font-weight="bold" >0.2</text>
<line x1="43.5" y1="443.1" x2="46" y2="443.1" stroke="#111" stroke-width="1.25"/>
<text x="43" y="445.26" font-size="6.0" text-anchor="end" font-weight="bold" >0.1</text>
<line x1="43.5" y1="471.2" x2="46" y2="471.2" stroke="#111" stroke-width="1.25"/>
<text x="43" y="473.36" font-size="6.0" text-anchor="end" font-weight="bold" >0.0</text>
<line x1="46" y1="471.2" x2="167.4" y2="471.2" stroke="#111" stroke-width="1.25"/>
<line x1="76.6" y1="471.2" x2="76.6" y2="473.8" stroke="#111" stroke-width="1.25"/>
<line x1="137" y1="471.2" x2="137" y2="473.8" stroke="#111" stroke-width="1.25"/>
<text x="106.3" y="381.1" font-size="7.7" text-anchor="middle" font-weight="bold" >circulating TFH</text>
<text x="104.1" y="392.8" font-size="8.5" text-anchor="middle" stroke="#111" stroke-width="0.25"><tspan font-style="italic">P</tspan>=.005</text>
<text transform="translate(26,435.8) rotate(-90)" font-size="6.0" font-weight="bold" text-anchor="middle">CXCR5<tspan dy="-2.40" font-size="3.90">+</tspan><tspan dy="2.40">ICOS</tspan><tspan dy="-2.40" font-size="3.90">+</tspan><tspan dy="2.40">PD-1</tspan><tspan dy="-2.40" font-size="3.90">high</tspan><tspan dy="2.40"></tspan></text>
<text transform="translate(33.6,429.4) rotate(-90)" font-size="6.0" font-weight="bold" text-anchor="middle">/CD3<tspan dy="-2.40" font-size="4.80">+</tspan><tspan dy="2.40">CD4</tspan><tspan dy="-2.40" font-size="4.80">+</tspan><tspan dy="2.40"> lymphocytes (%)</tspan></text>
<line x1="76.6" y1="460.9" x2="76.6" y2="470" stroke="#444" stroke-width="0.9"/>
<line x1="66.2" y1="460.9" x2="86.4" y2="460.9" stroke="#444" stroke-width="0.9"/>
<line x1="56.2" y1="468.4" x2="96.3" y2="468.4" stroke="#111" stroke-width="1.15"/>
<circle cx="76.6" cy="456.2" r="1.6" fill="#fff" stroke="#111" stroke-width="1.35"/>
<circle cx="76.6" cy="465.6" r="1.6" fill="#fff" stroke="#111" stroke-width="1.35"/>
<circle cx="71.2" cy="468.5" r="1.6" fill="#fff" stroke="#111" stroke-width="1.35"/>
<circle cx="76.6" cy="469.3" r="1.6" fill="#fff" stroke="#111" stroke-width="1.35"/>
<circle cx="82" cy="469.6" r="1.6" fill="#fff" stroke="#111" stroke-width="1.35"/>
<circle cx="76.6" cy="471" r="1.6" fill="#fff" stroke="#111" stroke-width="1.35"/>
<line x1="137" y1="434.3" x2="137" y2="461.1" stroke="#444" stroke-width="0.9"/>
<line x1="126.8" y1="434.3" x2="147.4" y2="434.3" stroke="#444" stroke-width="0.9"/>
<line x1="126.8" y1="461.1" x2="147.4" y2="461.1" stroke="#444" stroke-width="0.9"/>
<line x1="116.4" y1="445.3" x2="157.4" y2="445.3" stroke="#111" stroke-width="1.15"/>
<rect x="135.2" y="398.2" width="3.6" height="3.6" fill="#111"/>
<rect x="135.2" y="420.1" width="3.6" height="3.6" fill="#111"/>
<rect x="130.5" y="437.1" width="3.6" height="3.6" fill="#111"/>
<rect x="135.2" y="437.8" width="3.6" height="3.6" fill="#111"/>
<rect x="140.1" y="437.8" width="3.6" height="3.6" fill="#111"/>
<rect x="130.5" y="449.3" width="3.6" height="3.6" fill="#111"/>
<rect x="135.2" y="451.1" width="3.6" height="3.6" fill="#111"/>
<rect x="130.5" y="459.3" width="3.6" height="3.6" fill="#111"/>
<rect x="140.1" y="460.8" width="3.6" height="3.6" fill="#111"/>
<rect x="135.2" y="462.4" width="3.6" height="3.6" fill="#111"/>
<circle cx="238.6" cy="411.2" r="2.25" fill="#fff" stroke="#111" stroke-width="2.3"/>
<text x="258.5" y="414.3" font-size="12.6" text-anchor="start" font-weight="normal" stroke="#111" stroke-width="0.35">Controls</text>
<rect x="236" y="427.3" width="6.6" height="6.6" fill="#111"/>
<text x="258.5" y="434.3" font-size="12.6" text-anchor="start" font-weight="normal" stroke="#111" stroke-width="0.35">ITP</text>
</svg></body></html>
